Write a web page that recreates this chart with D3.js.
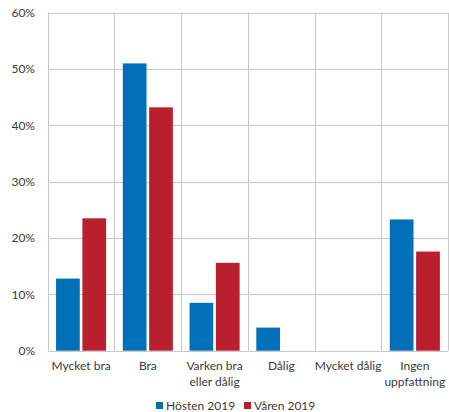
<!DOCTYPE html>
<html>
<head>
<meta charset="utf-8">
<script src="https://cdn.jsdelivr.net/npm/d3@7"></script>
<style>
  html, body { margin: 0; padding: 0; background: #fff; }
  svg text { font-family: Lato, "Open Sans", sans-serif; fill: #3a3a3a; }
</style>
</head>
<body>
<svg id="chart" width="449" height="412"></svg>
<script>
// Categories and survey shares (percent)
const categories = [["Mycket bra"], ["Bra"], ["Varken bra", "eller dålig"], ["Dålig"], ["Mycket dålig"], ["Ingen", "uppfattning"]];
const seriesNames = ["Hösten 2019", "Våren 2019"];
const hosten2019 = [12.8, 51.0, 8.5, 4.1, 0, 23.3];
const varen2019 = [23.5, 43.2, 15.6, 0, 0, 17.6];
const yTicks = [0, 10, 20, 30, 40, 50, 60];
const colors = ["#0070B8", "#BA1F2E"];

const svg = d3.select("#chart");
const margin = { left: 47.7, right: 0.8, top: 12.7, bottom: 61.3 };
const W = 449, H = 412;
const x0 = d3.scaleBand().domain(d3.range(categories.length)).range([margin.left, W - margin.right]).padding(0);
const y = d3.scaleLinear().domain([0, 60]).range([H - margin.bottom, margin.top]);

const bw = x0.bandwidth();
const x1 = d3.scaleBand().domain([0, 1]).range([bw * 0.125, bw * 0.875]).paddingInner(0.1);

// Gridlines
const grid = svg.append("g").attr("stroke", "#c9c9c9").attr("stroke-width", 1);
grid.selectAll("line.h").data(yTicks.slice(1)).join("line")
  .attr("x1", margin.left).attr("x2", W - margin.right)
  .attr("y1", d => Math.round(y(d)) + 0.5).attr("y2", d => Math.round(y(d)) + 0.5);
grid.selectAll("line.v").data(d3.range(categories.length + 1)).join("line")
  .attr("x1", d => Math.round(margin.left + d * bw) + 0.5)
  .attr("x2", d => Math.round(margin.left + d * bw) + 0.5)
  .attr("y1", margin.top).attr("y2", y(0));

// Bars, one group per series; zero values are skipped
const series = [hosten2019, varen2019];
series.forEach((vals, s) => {
  const pts = vals.map((v, i) => ({ v, i })).filter(d => d.v > 0);
  svg.append("g").selectAll("rect").data(pts).join("rect")
    .attr("x", d => x0(d.i) + x1(s))
    .attr("y", d => y(d.v))
    .attr("width", x1.bandwidth())
    .attr("height", d => y(0) - y(d.v))
    .attr("fill", colors[s]);
});

// Baseline
svg.append("line").attr("x1", margin.left).attr("x2", W - margin.right)
  .attr("y1", Math.round(y(0)) + 0.5).attr("y2", Math.round(y(0)) + 0.5)
  .attr("stroke", "#c9c9c9");

// Y axis labels
svg.append("g").selectAll("text").data(yTicks).join("text")
  .attr("x", 35).attr("y", d => y(d)).attr("dy", "0.35em")
  .attr("text-anchor", "end").attr("font-size", 12)
  .text(d => d + "%");

// Category labels
const cat = svg.append("g").selectAll("text").data(categories).join("text")
  .attr("text-anchor", "middle").attr("font-size", 12)
  .attr("x", (d, i) => x0(i) + bw / 2).attr("y", 370);
cat.selectAll("tspan").data(d => d).join("tspan")
  .attr("x", function () { return d3.select(this.parentNode).attr("x"); })
  .attr("dy", (d, i) => i === 0 ? 0 : 16)
  .text(d => d);

// Legend
const legend = svg.append("g");
const lx = [156, 244];
seriesNames.forEach((n, i) => {
  legend.append("rect").attr("x", lx[i]).attr("y", 402).attr("width", 7).attr("height", 7).attr("fill", colors[i]);
  legend.append("text").attr("x", lx[i] + 10).attr("y", 409.5).attr("font-size", 12).text(n);
});
</script>
</body>
</html>
